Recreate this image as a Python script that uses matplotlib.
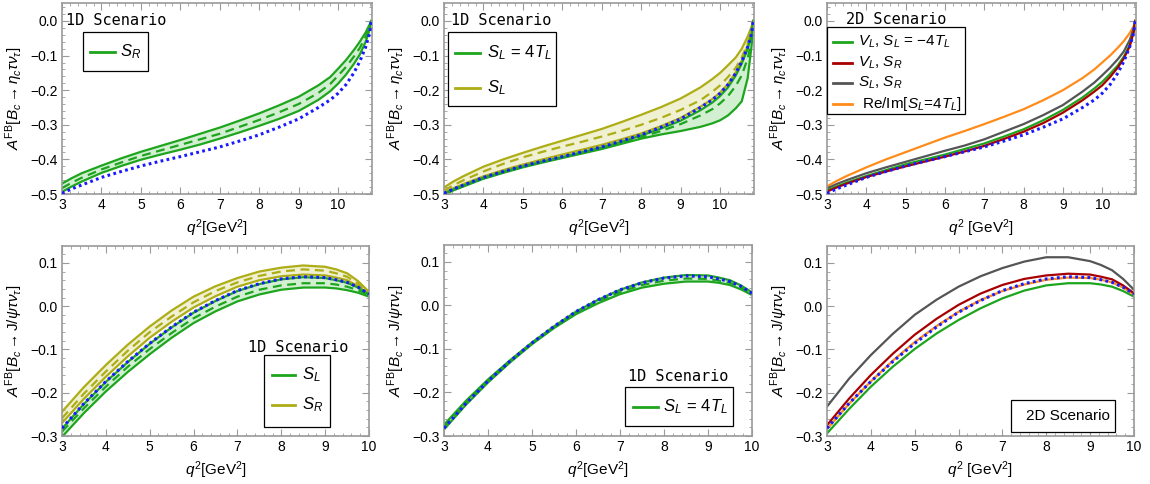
import matplotlib
matplotlib.use("Agg")
import matplotlib.pyplot as plt
from matplotlib.lines import Line2D
from matplotlib.patches import Rectangle
from matplotlib.ticker import MultipleLocator

plt.rcParams['font.family'] = ['Liberation Sans', 'DejaVu Sans']
plt.rcParams['mathtext.fontset'] = 'custom'
plt.rcParams['mathtext.rm'] = 'Liberation Sans'
plt.rcParams['mathtext.it'] = 'Liberation Sans:italic'
plt.rcParams['mathtext.bf'] = 'Liberation Sans:bold'
plt.rcParams['mathtext.fallback'] = 'stixsans'
plt.rcParams['axes.unicode_minus'] = True

# ---------------- data: B_c -> eta_c tau nu ----------------
q2_eta = [3, 3.25, 3.5, 4, 4.5, 5, 5.5, 6, 6.5, 7, 7.5, 8, 8.5, 9, 9.5, 9.8, 10,
          10.2, 10.4, 10.55, 10.7, 10.8, 10.84]
sm_eta = [-0.498, -0.485, -0.474, -0.452, -0.435, -0.419, -0.405, -0.392, -0.378, -0.364, -0.347,
          -0.329, -0.307, -0.283, -0.250, -0.228, -0.209, -0.184, -0.150, -0.117, -0.075,
          -0.035, 0.0]
# panel 1: S_R
sr_eta_up = [-0.470, -0.454, -0.440, -0.418, -0.397, -0.378, -0.361, -0.344, -0.326, -0.308, -0.288,
             -0.267, -0.244, -0.219, -0.186, -0.162, -0.138, -0.113, -0.084, -0.060, -0.033,
             -0.010, 0.0]
sr_eta_mid = [-0.483, -0.467, -0.453, -0.429, -0.409, -0.390, -0.374, -0.358, -0.342, -0.326, -0.306,
              -0.286, -0.264, -0.240, -0.208, -0.182, -0.158, -0.133, -0.103, -0.078, -0.045,
              -0.018, 0.0]
sr_eta_lo = [-0.494, -0.478, -0.464, -0.439, -0.419, -0.401, -0.386, -0.372, -0.357, -0.340, -0.322,
             -0.303, -0.283, -0.260, -0.228, -0.203, -0.181, -0.155, -0.124, -0.097, -0.060,
             -0.025, 0.0]
# panel 2: S_L = 4 T_L (green) and S_L (olive)
slt_eta_up = [-0.499, -0.486, -0.475, -0.453, -0.436, -0.420, -0.406, -0.393, -0.379, -0.365, -0.349,
              -0.331, -0.311, -0.288, -0.258, -0.236, -0.217, -0.192, -0.157, -0.123, -0.080,
              -0.038, 0.0]
slt_eta_mid = [-0.500, -0.487, -0.476, -0.454, -0.437, -0.421, -0.407, -0.394, -0.381, -0.367, -0.352,
               -0.336, -0.318, -0.298, -0.273, -0.255, -0.238, -0.217, -0.187, -0.157, -0.108,
               -0.055, 0.0]
slt_eta_lo = [-0.502, -0.489, -0.478, -0.456, -0.439, -0.423, -0.409, -0.396, -0.383, -0.370, -0.355,
              -0.340, -0.328, -0.318, -0.306, -0.296, -0.287, -0.273, -0.252, -0.232, -0.165,
              -0.070, 0.0]
sl_eta_up = [-0.481, -0.463, -0.448, -0.421, -0.400, -0.381, -0.363, -0.346, -0.329, -0.312, -0.292,
             -0.271, -0.249, -0.224, -0.192, -0.168, -0.150, -0.128, -0.105, -0.080, -0.045,
             -0.016, 0.0]
sl_eta_mid = [-0.490, -0.474, -0.460, -0.435, -0.413, -0.394, -0.378, -0.363, -0.349, -0.334, -0.318,
              -0.300, -0.280, -0.257, -0.229, -0.205, -0.186, -0.162, -0.135, -0.105, -0.065,
              -0.025, 0.0]
sl_eta_lo = [-0.496, -0.483, -0.471, -0.449, -0.431, -0.415, -0.400, -0.386, -0.372, -0.358, -0.342,
             -0.325, -0.304, -0.280, -0.248, -0.226, -0.207, -0.182, -0.148, -0.115, -0.073,
             -0.033, 0.0]
# panel 3: 2D scenarios
vl_sl_eta = [-0.490, -0.478, -0.467, -0.448, -0.431, -0.414, -0.400, -0.386, -0.370, -0.354, -0.334,
             -0.313, -0.287, -0.257, -0.221, -0.195, -0.176, -0.153, -0.128, -0.103, -0.070,
             -0.030, 0.0]
vl_sr_eta = [-0.493, -0.481, -0.470, -0.451, -0.435, -0.420, -0.406, -0.392, -0.377, -0.361, -0.341,
             -0.320, -0.295, -0.265, -0.229, -0.204, -0.186, -0.162, -0.134, -0.108, -0.073,
             -0.032, 0.0]
sl_sr_eta = [-0.484, -0.471, -0.460, -0.440, -0.423, -0.407, -0.391, -0.375, -0.360, -0.342, -0.320,
             -0.298, -0.272, -0.243, -0.204, -0.178, -0.157, -0.135, -0.110, -0.088, -0.055,
             -0.022, 0.0]
reim_eta = [-0.478, -0.462, -0.448, -0.423, -0.400, -0.379, -0.358, -0.337, -0.318, -0.298, -0.277,
            -0.255, -0.229, -0.200, -0.165, -0.140, -0.120, -0.100, -0.077, -0.058, -0.035,
            -0.015, 0.0]

# ---------------- data: B_c -> J/psi tau nu ----------------
q2_psi = [3, 3.5, 4, 4.5, 5, 5.5, 6, 6.5, 7, 7.5, 8, 8.5, 9, 9.25, 9.5, 9.75, 10]
sm_psi = [-0.282, -0.225, -0.174, -0.128, -0.086, -0.048, -0.014, 0.013, 0.036, 0.052,
          0.063, 0.068, 0.066, 0.061, 0.055, 0.044, 0.028]
# panel 4: S_L (green), S_R (olive)
sl_psi_up = [-0.283, -0.226, -0.175, -0.129, -0.087, -0.049, -0.015, 0.012, 0.035, 0.051,
             0.062, 0.067, 0.065, 0.060, 0.054, 0.043, 0.027]
sl_psi_mid = [-0.290, -0.236, -0.186, -0.140, -0.099, -0.062, -0.028, -0.001, 0.022, 0.038,
              0.048, 0.053, 0.053, 0.050, 0.045, 0.037, 0.025]
sl_psi_lo = [-0.302, -0.247, -0.197, -0.152, -0.111, -0.073, -0.039, -0.012, 0.011, 0.027,
             0.038, 0.043, 0.043, 0.041, 0.037, 0.031, 0.022]
sr_psi_up = [-0.244, -0.187, -0.136, -0.089, -0.047, -0.010, 0.022, 0.046, 0.065, 0.080,
             0.089, 0.094, 0.091, 0.085, 0.076, 0.058, 0.033]
sr_psi_mid = [-0.259, -0.202, -0.151, -0.103, -0.060, -0.024, 0.009, 0.035, 0.055, 0.070,
              0.080, 0.085, 0.082, 0.076, 0.068, 0.052, 0.030]
sr_psi_lo = [-0.270, -0.214, -0.163, -0.116, -0.073, -0.036, -0.003, 0.023, 0.045, 0.060,
             0.069, 0.073, 0.071, 0.066, 0.060, 0.046, 0.027]
# panel 5: S_L = 4 T_L
slt_psi_up = [-0.274, -0.219, -0.170, -0.126, -0.085, -0.048, -0.014, 0.013, 0.036, 0.053,
              0.064, 0.070, 0.069, 0.064, 0.058, 0.046, 0.030]
slt_psi_mid = [-0.279, -0.223, -0.173, -0.128, -0.087, -0.050, -0.017, 0.009, 0.031, 0.047,
               0.057, 0.062, 0.061, 0.057, 0.052, 0.041, 0.027]
slt_psi_lo = [-0.285, -0.228, -0.177, -0.131, -0.089, -0.052, -0.020, 0.005, 0.026, 0.041,
              0.050, 0.055, 0.055, 0.052, 0.047, 0.037, 0.024]
# panel 6: 2D scenarios
vl_sl_psi = [-0.294, -0.238, -0.186, -0.140, -0.099, -0.063, -0.032, -0.005, 0.018, 0.036,
             0.048, 0.053, 0.053, 0.050, 0.045, 0.035, 0.022]
vl_sr_psi = [-0.275, -0.214, -0.159, -0.110, -0.066, -0.029, 0.003, 0.029, 0.049, 0.063,
             0.071, 0.075, 0.073, 0.068, 0.062, 0.048, 0.030]
sl_sr_psi = [-0.232, -0.168, -0.113, -0.064, -0.020, 0.015, 0.045, 0.069, 0.088, 0.103,
             0.113, 0.113, 0.104, 0.095, 0.083, 0.063, 0.038]
reim_psi = [-0.284, -0.226, -0.174, -0.126, -0.083, -0.046, -0.013, 0.014, 0.035, 0.050,
            0.061, 0.066, 0.065, 0.061, 0.055, 0.043, 0.027]

# ---------------- texts ----------------
ylab_eta = r'$A^{\mathrm{FB}}[B_c \to \eta_c \tau \nu_\tau]$'
ylab_psi = r'$A^{\mathrm{FB}}[B_c \to \mathrm{J}/\psi \tau \nu_\tau]$'
xl = r'$q^2$[GeV$^2$]'
xl2 = r'$q^2$ [GeV$^2$]'
yt_eta = [0.0, -0.1, -0.2, -0.3, -0.4, -0.5]
yt_psi = [0.1, 0.0, -0.1, -0.2, -0.3]
xt = [3, 4, 5, 6, 7, 8, 9, 10]
lab_p1 = [r'$S_R$']
lab_p2 = [r'$S_L\,=\,4T_L$', r'$S_L$']
lab_p3 = [r'$V_L$, $S_L$ = $-4T_L$', r'$V_L$, $S_R$', r'$S_L$, $S_R$', r' Re/Im[$S_L$=4$T_L$]']
lab_p4 = [r'$S_L$', r'$S_R$']
lab_p5 = [r'$S_L\,=\,4T_L$']

# ---------------- styles ----------------
GREEN = '#1ea51e'
GREEN_F = '#d2efd2'
OLIVE = '#adad16'
OLIVE_F = '#f0f0d2'
BLUE = '#1a1aff'
RED = '#a80000'
GRAY = '#555555'
ORANGE = '#ff8c1a'
FRAME = '#9a9a9a'
LW = 1.6
mono = 'DejaVu Sans Mono'

fig = plt.figure(figsize=(11.5, 4.84), dpi=100)
W, H = 1150, 484


def make_ax(x0, x1, y0, y1):
    return fig.add_axes([x0 / W, 1 - y1 / H, (x1 - x0) / W, (y1 - y0) / H])


def style(ax, xlim, ylim, yticks, ylabel, xlabel):
    ax.set_xlim(*xlim)
    ax.set_ylim(*ylim)
    ax.set_xticks(xt)
    ax.set_yticks(yticks)
    ax.xaxis.set_minor_locator(MultipleLocator(0.2))
    ax.yaxis.set_minor_locator(MultipleLocator(0.02))
    ax.tick_params(which='both', direction='in', top=True, right=True,
                   color=FRAME, labelsize=10, pad=3)
    ax.tick_params(which='major', length=5, width=0.8)
    ax.tick_params(which='minor', length=2.5, width=0.6)
    for s in ax.spines.values():
        s.set_color(FRAME)
        s.set_linewidth(1.2)
    ax.set_ylabel(ylabel, fontsize=11, labelpad=4)
    ax.set_xlabel(xlabel, fontsize=11, labelpad=4)


def band(ax, x, up, mid, lo, col, fcol):
    ax.fill_between(x, lo, up, color=fcol, lw=0)
    ax.plot(x, up, color=col, lw=LW)
    ax.plot(x, lo, color=col, lw=LW)
    ax.plot(x, mid, color=col, lw=LW, ls=(0, (4, 2.5)))


def sm(ax, x, y):
    ax.plot(x, y, color=BLUE, lw=2.2, ls=(0, (0.9, 1.1)), zorder=5)


def fx(px):
    return px / W


def fy(py):
    return 1 - py / H


def box_legend(box, colors, labels, ys, lx, tx, fs):
    x0, y0, x1, y1 = box
    fig.add_artist(Rectangle((fx(x0), fy(y1)), fx(x1) - fx(x0), fy(y0) - fy(y1),
                             transform=fig.transFigure, fc='white', ec='black',
                             lw=0.9, zorder=10))
    for c, lab, y in zip(colors, labels, ys):
        fig.add_artist(Line2D([fx(lx[0]), fx(lx[1])], [fy(y), fy(y)],
                              transform=fig.transFigure, color=c, lw=2, zorder=11))
        fig.text(fx(tx), fy(y), lab, fontsize=fs, va='center', ha='left', zorder=12)


# ---- panel 1 ----
ax1 = make_ax(62, 372, 3, 194)
band(ax1, q2_eta, sr_eta_up, sr_eta_mid, sr_eta_lo, GREEN, GREEN_F)
sm(ax1, q2_eta, sm_eta)
style(ax1, (3, 10.86), (-0.5, 0.052), yt_eta, ylab_eta, xl)
ax1.text(0.013, 0.906, '1D Scenario', transform=ax1.transAxes, family=mono,
         fontsize=11, va='center', ha='left')
box_legend((83, 32, 148, 71), [GREEN], lab_p1, [52], (90, 115), 120, 12)

# ---- panel 2 ----
ax2 = make_ax(444, 754, 3, 194)
band(ax2, q2_eta, sl_eta_up, sl_eta_mid, sl_eta_lo, OLIVE, OLIVE_F)
band(ax2, q2_eta, slt_eta_up, slt_eta_mid, slt_eta_lo, GREEN, GREEN_F)
sm(ax2, q2_eta, sm_eta)
style(ax2, (3, 10.86), (-0.5, 0.052), yt_eta, ylab_eta, xl)
ax2.text(0.024, 0.906, '1D Scenario', transform=ax2.transAxes, family=mono,
         fontsize=11, va='center', ha='left')
box_legend((448, 32, 556, 106), [GREEN, OLIVE], lab_p2, [53, 88], (455, 480), 487, 12)

# ---- panel 3 ----
ax3 = make_ax(827, 1136, 3, 194)
sm(ax3, q2_eta, sm_eta)
ax3.plot(q2_eta, reim_eta, color=ORANGE, lw=LW)
ax3.plot(q2_eta, sl_sr_eta, color=GRAY, lw=LW)
ax3.plot(q2_eta, vl_sl_eta, color=GREEN, lw=LW)
ax3.plot(q2_eta, vl_sr_eta, color=RED, lw=LW)
style(ax3, (3, 10.86), (-0.5, 0.052), yt_eta, ylab_eta, xl2)
ax3.text(0.06, 0.916, '2D Scenario', transform=ax3.transAxes, family=mono,
         fontsize=11, va='center', ha='left')
box_legend((827, 27, 965, 114), [GREEN, RED, GRAY, ORANGE], lab_p3,
           [42, 63, 83, 104], (833, 852), 858, 11)

# ---- panel 4 ----
ax4 = make_ax(62, 369, 246, 436)
band(ax4, q2_psi, sr_psi_up, sr_psi_mid, sr_psi_lo, OLIVE, OLIVE_F)
band(ax4, q2_psi, sl_psi_up, sl_psi_mid, sl_psi_lo, GREEN, GREEN_F)
sm(ax4, q2_psi, sm_psi)
style(ax4, (3, 10), (-0.3, 0.139), yt_psi, ylab_psi, xl)
ax4.text(0.606, 0.468, '1D Scenario', transform=ax4.transAxes, family=mono,
         fontsize=11, va='center', ha='left')
box_legend((264, 355, 330, 427), [GREEN, OLIVE], lab_p4, [375, 405], (272, 295), 302, 12)

# ---- panel 5 ----
ax5 = make_ax(444, 752, 245, 436)
band(ax5, q2_psi, slt_psi_up, slt_psi_mid, slt_psi_lo, GREEN, GREEN_F)
sm(ax5, q2_psi, sm_psi)
style(ax5, (3, 10), (-0.3, 0.139), yt_psi, ylab_psi, xl)
ax5.text(0.597, 0.314, '1D Scenario', transform=ax5.transAxes, family=mono,
         fontsize=11, va='center', ha='left')
box_legend((625, 387, 733, 426), [GREEN], lab_p5, [407], (633, 658), 663, 12)

# ---- panel 6 ----
ax6 = make_ax(827, 1134, 246, 436)
ax6.plot(q2_psi, sl_sr_psi, color=GRAY, lw=LW)
ax6.plot(q2_psi, vl_sl_psi, color=GREEN, lw=LW)
ax6.plot(q2_psi, reim_psi, color=ORANGE, lw=LW)
sm(ax6, q2_psi, sm_psi)
ax6.plot(q2_psi, vl_sr_psi, color=RED, lw=LW)
style(ax6, (3, 10), (-0.3, 0.139), yt_psi, ylab_psi, xl2)
box_legend((1011, 400, 1115, 432), [], [], [], (0, 0), 0, 11)
fig.text(fx(1110), fy(416), '2D Scenario', fontsize=11, va='center', ha='right', zorder=12)

fig.savefig('out.png', dpi=100)
